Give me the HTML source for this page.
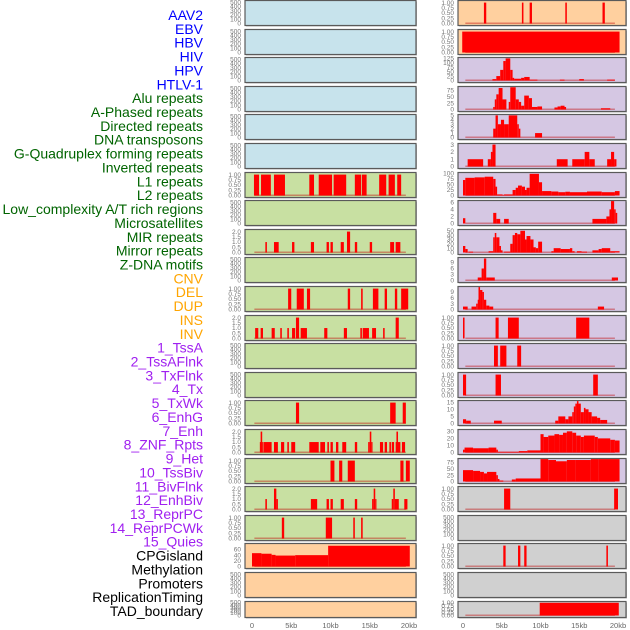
<!DOCTYPE html>
<html><head><meta charset="utf-8"><style>
html,body{margin:0;padding:0;background:#fff;}
svg{display:block;font-family:"Liberation Sans",sans-serif;}
</style></head><body>
<svg id="chart" width="630" height="630" viewBox="0 0 630 630"></svg>
<script>
const trackLabels = ["AAV2","EBV","HBV","HIV","HPV","HTLV-1","Alu repeats","A-Phased repeats","Directed repeats","DNA transposons","G-Quadruplex forming repeats","Inverted repeats","L1 repeats","L2 repeats","Low_complexity A/T rich regions","Microsatellites","MIR repeats","Mirror repeats","Z-DNA motifs","CNV","DEL","DUP","INS","INV","1_TssA","2_TssAFlnk","3_TxFlnk","4_Tx","5_TxWk","6_EnhG","7_Enh","8_ZNF_Rpts","9_Het","10_TssBiv","11_BivFlnk","12_EnhBiv","13_ReprPC","14_ReprPCWk","15_Quies","CPGisland","Methylation","Promoters","ReplicationTiming","TAD_boundary"];
const labelGroups = [6,13,5,15,5];
const xTickLabels = ["0","5kb","10kb","15kb","20kb"];
const xTickValues = [0,5,10,15,20];
const ticks500 = [0,100,200,300,400,500];
const ticks1 = [0,0.25,0.5,0.75,1];
const ticks2 = [0,0.5,1,1.5,2];

// left column data (kb start, kb end, value)
const leftL1 = [[0.25,0.9,1],[1.15,2.4,1],[2.8,4.2,1],[7.3,7.9,1],[8.5,10.2,1],[10.4,12.0,1],[13.1,13.9,1],[14.0,14.6,1],[16.2,17.1,1],[17.4,18.2,1],[18.5,19.0,1]];
const leftRow8 = [[1.7,1.9,1],[2.8,3.4,1],[5.1,5.4,1],[7.5,7.9,1],[9.5,9.8,1],[10.0,10.3,1],[11.3,11.7,1],[12.1,12.5,2],[13.1,13.4,1],[15.0,15.3,1],[17.6,18.1,1],[18.3,18.9,1]];
const leftRow10 = [[4.6,5.0,1],[5.7,6.6,1],[7.0,7.4,1],[12.2,12.5,1],[13.9,14.1,1],[15.4,16.1,1],[16.9,17.2,1],[18.2,18.5,1],[19.0,19.9,1]];
const leftRow11 = [[0.4,0.8,1],[1.1,1.4,1],[2.5,2.9,1],[3.6,3.8,1],[4.5,4.7,1],[5.1,5.5,1],[5.6,6.0,2],[6.2,7.0,1],[9.2,9.6,1],[11.7,12.1,1],[13.8,14.0,1],[14.1,14.9,1],[15.3,15.8,1],[16.7,16.9,1],[18.3,18.7,2]];
const leftRow14 = [[5.6,6.0,1],[17.6,18.3,1],[19.2,19.6,1]];
const leftRow15 = [[1.0,1.1,1],[1.1,1.3,2],[1.3,1.4,1],[1.5,2.5,1],[2.8,3.3,1],[3.7,4.1,1],[4.5,4.7,1],[5.0,5.5,1],[7.3,8.5,1],[8.7,9.3,1],[9.6,9.8,1],[10.0,10.3,1],[10.7,11.0,1],[11.5,12.0,1],[13.1,13.4,1],[14.8,15.0,1],[15.0,15.2,2],[15.2,15.3,1],[16.3,16.7,1],[16.9,17.2,1],[17.5,17.7,1],[17.8,18.1,1],[18.3,18.4,1],[18.4,18.6,2],[18.6,18.9,1],[19.1,19.5,1]];
const leftRow16 = [[10.0,10.5,1],[11.1,11.5,1],[12.2,13.1,1],[18.9,19.3,1],[19.6,20.1,1]];
const leftRow17 = [[1.7,1.9,1],[2.8,3.1,2],[3.1,3.3,1],[7.5,8.3,1],[9.5,9.8,1],[10.0,10.3,1],[11.3,11.7,1],[13.1,13.4,1],[15.3,15.5,1],[15.5,15.7,2],[15.7,15.8,1],[17.8,18.0,1],[18.0,18.2,2],[18.2,18.7,1],[19.4,19.8,1]];
const leftRow18 = [[3.8,4.1,1],[9.4,10.2,1],[12.9,13.1,1],[13.9,14.1,1]];
const methylation = [[0,1.2,47],[1.2,2.5,45],[2.5,3.0,41],[3.0,5.5,38.5],[5.5,9.7,40],[9.7,20.1,73]];

// right column data
const rightRow0 = [[2.7,3.0,1],[7.6,7.8,1],[8.6,8.9,1],[13.2,13.4,1],[18.0,18.3,1]];
const rightRow1 = [[-0.1,20.2,1]];
const rightRow2 = [[3.8,4.3,8],[4.3,4.8,25],[4.8,5.2,60],[5.2,5.5,110],[5.5,6.1,125],[6.1,6.4,60],[6.4,6.6,15],[6.6,7.5,10],[7.5,7.9,15],[7.9,8.6,20],[8.6,9.6,5],[12.5,13.1,5],[15.0,15.6,8],[18.6,19.6,5]];
const rightRow3 = [[3.9,4.1,10],[4.1,4.3,40],[4.3,4.6,60],[4.6,5.1,85],[5.1,5.6,40],[5.9,6.1,30],[6.1,6.8,88],[6.8,7.2,40],[7.2,7.5,30],[7.5,7.9,15],[7.9,8.5,55],[8.5,8.9,45],[8.9,9.6,10],[9.6,10.2,12],[11.8,12.2,8],[12.2,12.6,12],[12.6,13.1,15],[13.1,13.3,10],[17.8,19.0,5]];
const rightRow4 = [[3.9,4.2,2],[4.2,4.5,5],[4.5,4.9,3],[4.9,5.3,4],[5.3,5.9,3],[5.9,7.0,5],[7.0,7.2,3],[7.2,7.4,2],[9.3,10.2,1]];
const rightRow5 = [[0.6,2.6,1],[3.2,3.6,1],[3.6,3.8,2],[3.8,4.2,3],[12.1,13.5,1],[14.1,15.7,1],[15.7,16.3,2],[16.3,17.0,1],[18.6,19.1,1],[19.1,19.5,2],[19.5,19.8,1]];
const rightRow6 = [[0,0.3,70],[0.3,1.5,80],[1.5,2.8,82],[2.8,3.9,85],[3.9,4.2,75],[4.2,4.4,40],[4.4,5.1,5],[5.1,5.3,2],[5.3,6.4,5],[6.4,6.8,25],[6.8,7.1,35],[7.1,7.6,45],[7.6,8.0,40],[8.0,8.2,25],[8.2,8.6,35],[8.6,9.8,98],[9.8,10.2,60],[10.2,11.4,20],[11.4,12.3,18],[12.3,13.2,15],[13.2,13.8,17],[13.8,16.0,15],[16.0,17.9,18],[17.9,19.6,15],[19.6,20.2,20]];
const rightRow7 = [[0,0.3,1.5],[3.9,4.3,3],[4.3,4.8,1.3],[5.3,5.9,1.3],[16.7,18.5,1.3],[18.5,18.9,2],[18.9,19.1,4],[19.1,19.5,6.5],[19.5,19.7,4],[19.7,19.9,3]];
const rightRow8 = [[0,0.3,15],[0.3,0.6,8],[0.7,1.3,2],[3.3,3.9,3],[3.9,4.1,35],[4.1,4.3,45],[4.3,4.7,35],[4.7,4.9,15],[4.9,5.1,5],[5.3,6.1,2],[6.1,6.4,20],[6.4,6.7,40],[6.7,7.0,45],[7.0,7.4,42],[7.4,8.0,50],[8.0,8.2,30],[8.2,8.7,38],[8.7,9.1,30],[9.1,9.4,12],[9.4,9.7,10],[9.7,10.2,25],[11.4,11.7,3],[11.7,12.6,10],[12.6,13.8,8],[13.8,14.1,10],[14.1,14.4,3],[14.7,15.3,3],[15.3,16.0,2],[16.7,17.5,5],[17.5,17.9,8],[17.9,19.0,10],[19.0,20.2,3]];
const rightRow9 = [[1.9,2.4,1.5],[2.4,2.7,6],[2.7,3.0,11],[3.0,4.1,1.5],[19.2,20.0,1.5]];
const rightRow10 = [[0,0.6,1.5],[1.1,1.7,1.5],[1.7,1.9,3],[1.9,2.0,5],[2.0,2.2,11.5],[2.2,2.5,10],[2.5,2.7,9],[2.7,3.0,5],[3.0,3.4,2],[3.4,3.9,1.5],[17.4,18.2,1.5]];
const rightRow11 = [[0,0.2,1],[4.2,4.6,1],[5.8,7.2,1],[14.6,16.3,1]];
const rightRow12 = [[4.0,4.5,1],[4.8,5.6,1],[7.0,7.5,1]];
const rightRow13 = [[0,0.4,1],[4.2,4.9,1],[16.8,17.4,1]];
const rightRow14 = [[0,0.4,3],[0.4,1.0,2],[4.0,5.0,2],[11.9,12.3,2],[12.3,13.2,5],[13.2,13.6,3],[13.6,14.1,5],[14.1,14.3,8],[14.3,14.5,12],[14.5,14.7,14],[14.7,14.9,16],[14.9,15.2,14],[15.2,15.6,8],[15.6,15.8,11],[15.8,16.2,10],[16.2,16.6,8],[16.6,17.3,5],[17.3,17.7,4],[17.7,18.6,2.5]];
const rightRow15 = [[0,0.2,4],[0.2,1.3,7],[1.3,3.3,6],[3.3,4.3,7],[4.3,4.5,4],[4.5,7.2,1],[7.2,8.3,2],[8.3,10.0,3],[10.0,10.4,26],[10.4,11.0,22],[11.0,11.8,24],[11.8,12.4,26],[12.4,12.9,25],[12.9,13.4,28],[13.4,14.1,30],[14.1,14.6,28],[14.6,15.2,24],[15.2,15.6,22],[15.6,17.0,24],[17.0,17.4,22],[17.4,19.0,20],[19.0,19.6,18],[19.6,20.2,17]];
const rightRow16 = [[0,1.3,45],[1.3,2.2,42],[2.2,2.7,38],[2.7,3.1,32],[3.1,4.3,38],[4.3,4.5,25],[4.5,4.7,10],[4.7,5.2,4],[6.3,6.8,8],[6.8,10.0,12],[10.0,11.0,95],[11.0,12.0,85],[12.0,13.4,80],[13.4,14.5,85],[14.5,16.5,85],[16.5,17.5,90],[17.5,20.2,95]];
const rightRow17 = [[5.3,6.1,1],[19.5,20.0,1]];
const rightRow19 = [[5.2,5.5,1],[7.1,7.4,1],[7.9,8.2,1],[18.5,18.7,1]];
const rightRow21 = [[9.9,20.1,1]];

const BLUE="#c7e3ec", GREEN="#c8e0a2", ORANGE="#ffd09f", PURPLE="#d5c7e3", GREY="#d0d0d0";
const leftPanels = [
 [BLUE,null,ticks500,540,0],[BLUE,null,ticks500,540,0],[BLUE,null,ticks500,540,0],[BLUE,null,ticks500,540,0],[BLUE,null,ticks500,540,0],[BLUE,null,ticks500,540,0],
 [GREEN,leftL1,ticks1,1.1,2],[GREEN,null,ticks500,540,0],[GREEN,leftRow8,ticks2,2.2,1],[GREEN,null,ticks500,540,0],
 [GREEN,leftRow10,ticks1,1.1,2],[GREEN,leftRow11,ticks2,2.2,1],[GREEN,null,ticks500,540,0],[GREEN,null,ticks500,540,0],
 [GREEN,leftRow14,ticks1,1.1,2],[GREEN,leftRow15,ticks2,2.2,1],[GREEN,leftRow16,ticks1,1.1,2],[GREEN,leftRow17,ticks2,2.2,1],[GREEN,leftRow18,ticks1,1.1,2],
 [ORANGE,methylation,[0,20,40,60],81,0],[ORANGE,null,ticks500,540,0],[ORANGE,null,ticks500,540,0]
];
const rightPanels = [
 [ORANGE,rightRow0,ticks1,1.1,2],[ORANGE,rightRow1,ticks1,1.1,2],
 [PURPLE,rightRow2,[0,25,50,75,100,125],130,0],[PURPLE,rightRow3,[0,25,50,75],91,0],[PURPLE,rightRow4,[0,1,2,3,4,5],5.2,0],[PURPLE,rightRow5,[0,1,2,3],3.15,0],
 [PURPLE,rightRow6,[0,25,50,75,100],104,0],[PURPLE,rightRow7,[0,2,4,6],6.5,0],[PURPLE,rightRow8,[0,10,20,30,40,50],53,0],[PURPLE,rightRow9,[0,3,6,9],11.5,0],[PURPLE,rightRow10,[0,3,6,9],11.8,0],
 [PURPLE,rightRow11,ticks1,1.1,2],[PURPLE,rightRow12,ticks1,1.1,2],[PURPLE,rightRow13,ticks1,1.1,2],
 [PURPLE,rightRow14,[0,5,10,15],16.2,0],[PURPLE,rightRow15,[0,10,20,30],32.6,0],[PURPLE,rightRow16,[0,25,50,75],91,0],
 [GREY,rightRow17,ticks1,1.1,2],[GREY,null,ticks500,540,0],[GREY,rightRow19,ticks1,1.1,2],[GREY,null,ticks500,540,0],[GREY,rightRow21,ticks1,1.1,2]
];

const NS="http://www.w3.org/2000/svg";
const svg=document.getElementById('chart');
function mk(tag,attrs,parent){const e=document.createElementNS(NS,tag);for(const k in attrs)e.setAttribute(k,attrs[k]);(parent||svg).appendChild(e);return e;}

// labels
const groupColors=["#0000ff","#006400","#ffa500","#a020f0","#000000"];
let gi=0,gc=0;
const shownLabels = trackLabels.filter(l=>!["A-Phased repeats0"].includes(l));
// reference shows 37 labels: drop ones not visible
const visible = ["AAV2","EBV","HBV","HIV","HPV","HTLV-1","Alu repeats","A-Phased repeats","Directed repeats","DNA transposons","G-Quadruplex forming repeats","Inverted repeats","L1 repeats","L2 repeats","Low_complexity A/T rich regions","Microsatellites","MIR repeats","Mirror repeats","Z-DNA motifs","CNV","DEL","DUP","INS","INV","1_TssA","2_TssAFlnk","3_TxFlnk","4_Tx","5_TxWk","6_EnhG","7_Enh","8_ZNF_Rpts","9_Het","10_TssBiv","11_BivFlnk","12_EnhBiv","13_ReprPC","14_ReprPCWk","15_Quies","CPGisland","Methylation","Promoters","ReplicationTiming","TAD_boundary"];
const colorOf = l => { const i=trackLabels.indexOf(l); let c=0,acc=0; for(let g=0;g<labelGroups.length;g++){acc+=labelGroups[g]; if(i<acc){c=g;break;}} return groupColors[c]; };
// reference: 6 blue, 13 green, 5 orange, 15 purple, 5 black => 44? adjust spacing to fit list
const n=visible.length, y0=20, y1=616, step=(y1-y0)/(n-1);
visible.forEach((l,i)=>{
  const t=mk('text',{x:203,y:y0+i*step,'text-anchor':'end','font-size':'14',fill:colorOf(l)});
  t.textContent=l;
  
  
});

function fmt(v,ticks){ const mx=ticks[ticks.length-1]; if(mx===1) return v.toFixed(2); if(mx===2) return v.toFixed(1); return String(v); }

function drawColumn(panels,col){
  const px0 = col===0?245:458, pw = col===0?171:168;
  const dx0 = col===0?252:463, dxs = col===0?157/20:155/20;
  const xs = kb => dx0 + kb*dxs;
  panels.forEach((p,i)=>{
    const [bg,data,ticks,ymax]=p;
    const top = Math.round(i*28.6)+0.5, h = i===21?16:25, base = h-2;
    const ys = v => top + base - v/ymax*base;
    const g=mk('g',{});
    
    
    mk('rect',{x:px0+1,y:top+1,width:pw,height:h,fill:'#bbb'},g);
    mk('rect',{x:px0,y:top,width:pw,height:h,fill:bg,stroke:'#5a5a5a','stroke-width':1.2},g);
    if(data){
      mk('rect',{x:xs(0.3),y:top+base-1,width:xs(19.6)-xs(0.3),height:1.5,fill:'rgba(190,0,0,0.4)'},g);
      data.forEach(d=>{
        const x1=Math.max(px0+0.6,xs(d[0])), x2=Math.min(px0+pw-0.6,xs(d[1]));
        const yv=Math.max(top+0.6,ys(d[2]));
        const r=mk('rect',{x:x1,y:yv,width:Math.max(1.2,x2-x1),height:top+base-yv,fill:'#ff0000'},g);
        
        
      });
    }
    ticks.forEach(v=>{
      const t=mk('text',{x:px0-4,y:ys(v)+2.2,'text-anchor':'end','font-size':'6.5',fill:'#777'},g);
      t.textContent=fmt(v,ticks);
      
      
    });
  });
  xTickValues.forEach((v,k)=>{
    const t=mk('text',{x:xs(v),y:628,'text-anchor':'middle','font-size':'7.5',fill:'#666'});
    t.textContent=xTickLabels[k];
    
    
  });
}
drawColumn(leftPanels,0);
drawColumn(rightPanels,1);
</script>
</body></html>
